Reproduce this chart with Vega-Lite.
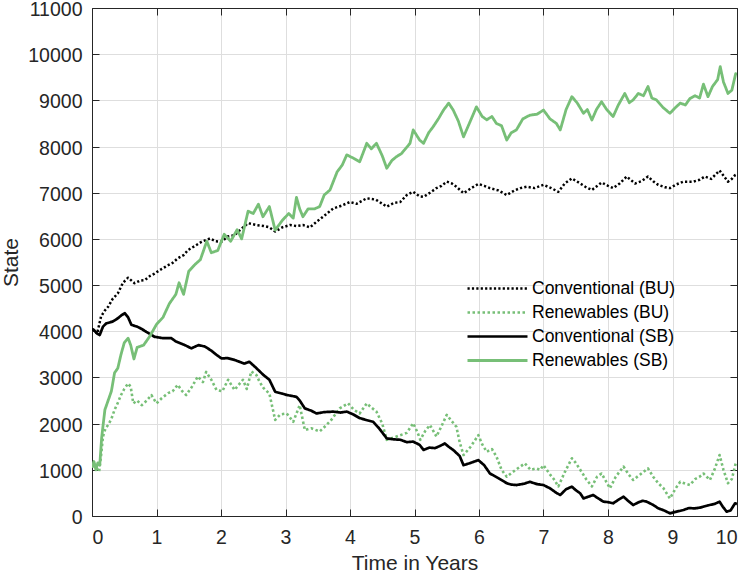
{
  "$schema": "https://vega.github.io/schema/vega-lite/v6.json",
  "width": 645,
  "height": 508,
  "autosize": {"type": "none"},
  "padding": {"left": 92, "top": 8, "right": 10, "bottom": 59},
  "background": "white",
  "data": {
    "values": [
      {"s":"Conventional (BU)","t":0,"v":4050},{"s":"Conventional (BU)","t":0.04,"v":4000},{"s":"Conventional (BU)","t":0.08,"v":3950},{"s":"Conventional (BU)","t":0.14,"v":4320},{"s":"Conventional (BU)","t":0.2,"v":4450},{"s":"Conventional (BU)","t":0.25,"v":4530},{"s":"Conventional (BU)","t":0.32,"v":4700},{"s":"Conventional (BU)","t":0.4,"v":4820},{"s":"Conventional (BU)","t":0.48,"v":5050},{"s":"Conventional (BU)","t":0.56,"v":5160},{"s":"Conventional (BU)","t":0.66,"v":5040},{"s":"Conventional (BU)","t":0.75,"v":5100},{"s":"Conventional (BU)","t":0.82,"v":5110},{"s":"Conventional (BU)","t":0.9,"v":5200},{"s":"Conventional (BU)","t":0.97,"v":5250},{"s":"Conventional (BU)","t":1.08,"v":5350},{"s":"Conventional (BU)","t":1.18,"v":5430},{"s":"Conventional (BU)","t":1.25,"v":5480},{"s":"Conventional (BU)","t":1.33,"v":5580},{"s":"Conventional (BU)","t":1.42,"v":5650},{"s":"Conventional (BU)","t":1.49,"v":5760},{"s":"Conventional (BU)","t":1.6,"v":5850},{"s":"Conventional (BU)","t":1.7,"v":5940},{"s":"Conventional (BU)","t":1.83,"v":6010},{"s":"Conventional (BU)","t":1.92,"v":5950},{"s":"Conventional (BU)","t":2.01,"v":5940},{"s":"Conventional (BU)","t":2.1,"v":6050},{"s":"Conventional (BU)","t":2.21,"v":6080},{"s":"Conventional (BU)","t":2.3,"v":6200},{"s":"Conventional (BU)","t":2.42,"v":6340},{"s":"Conventional (BU)","t":2.55,"v":6300},{"s":"Conventional (BU)","t":2.66,"v":6280},{"s":"Conventional (BU)","t":2.75,"v":6250},{"s":"Conventional (BU)","t":2.84,"v":6160},{"s":"Conventional (BU)","t":2.95,"v":6250},{"s":"Conventional (BU)","t":3.07,"v":6300},{"s":"Conventional (BU)","t":3.17,"v":6280},{"s":"Conventional (BU)","t":3.27,"v":6300},{"s":"Conventional (BU)","t":3.38,"v":6250},{"s":"Conventional (BU)","t":3.48,"v":6370},{"s":"Conventional (BU)","t":3.6,"v":6500},{"s":"Conventional (BU)","t":3.74,"v":6660},{"s":"Conventional (BU)","t":3.87,"v":6720},{"s":"Conventional (BU)","t":4.0,"v":6800},{"s":"Conventional (BU)","t":4.1,"v":6760},{"s":"Conventional (BU)","t":4.26,"v":6880},{"s":"Conventional (BU)","t":4.4,"v":6850},{"s":"Conventional (BU)","t":4.57,"v":6700},{"s":"Conventional (BU)","t":4.68,"v":6780},{"s":"Conventional (BU)","t":4.78,"v":6800},{"s":"Conventional (BU)","t":4.88,"v":6950},{"s":"Conventional (BU)","t":4.98,"v":7020},{"s":"Conventional (BU)","t":5.08,"v":6920},{"s":"Conventional (BU)","t":5.14,"v":6910},{"s":"Conventional (BU)","t":5.24,"v":7000},{"s":"Conventional (BU)","t":5.34,"v":7100},{"s":"Conventional (BU)","t":5.42,"v":7150},{"s":"Conventional (BU)","t":5.5,"v":7240},{"s":"Conventional (BU)","t":5.58,"v":7200},{"s":"Conventional (BU)","t":5.65,"v":7130},{"s":"Conventional (BU)","t":5.76,"v":6990},{"s":"Conventional (BU)","t":5.88,"v":7100},{"s":"Conventional (BU)","t":5.99,"v":7190},{"s":"Conventional (BU)","t":6.08,"v":7150},{"s":"Conventional (BU)","t":6.17,"v":7100},{"s":"Conventional (BU)","t":6.3,"v":7050},{"s":"Conventional (BU)","t":6.43,"v":6950},{"s":"Conventional (BU)","t":6.55,"v":7050},{"s":"Conventional (BU)","t":6.64,"v":7100},{"s":"Conventional (BU)","t":6.74,"v":7130},{"s":"Conventional (BU)","t":6.86,"v":7100},{"s":"Conventional (BU)","t":7.0,"v":7170},{"s":"Conventional (BU)","t":7.12,"v":7100},{"s":"Conventional (BU)","t":7.23,"v":7020},{"s":"Conventional (BU)","t":7.33,"v":7200},{"s":"Conventional (BU)","t":7.44,"v":7310},{"s":"Conventional (BU)","t":7.57,"v":7200},{"s":"Conventional (BU)","t":7.66,"v":7120},{"s":"Conventional (BU)","t":7.75,"v":7060},{"s":"Conventional (BU)","t":7.9,"v":7220},{"s":"Conventional (BU)","t":8.0,"v":7150},{"s":"Conventional (BU)","t":8.08,"v":7100},{"s":"Conventional (BU)","t":8.18,"v":7200},{"s":"Conventional (BU)","t":8.29,"v":7350},{"s":"Conventional (BU)","t":8.42,"v":7200},{"s":"Conventional (BU)","t":8.52,"v":7250},{"s":"Conventional (BU)","t":8.62,"v":7350},{"s":"Conventional (BU)","t":8.7,"v":7250},{"s":"Conventional (BU)","t":8.78,"v":7170},{"s":"Conventional (BU)","t":8.88,"v":7120},{"s":"Conventional (BU)","t":8.96,"v":7100},{"s":"Conventional (BU)","t":9.06,"v":7180},{"s":"Conventional (BU)","t":9.17,"v":7240},{"s":"Conventional (BU)","t":9.32,"v":7240},{"s":"Conventional (BU)","t":9.42,"v":7280},{"s":"Conventional (BU)","t":9.5,"v":7350},{"s":"Conventional (BU)","t":9.6,"v":7300},{"s":"Conventional (BU)","t":9.73,"v":7480},{"s":"Conventional (BU)","t":9.8,"v":7350},{"s":"Conventional (BU)","t":9.86,"v":7240},{"s":"Conventional (BU)","t":9.92,"v":7300},{"s":"Conventional (BU)","t":9.97,"v":7380},{"s":"Conventional (BU)","t":10.0,"v":7400},

      {"s":"Renewables (BU)","t":0,"v":1050},{"s":"Renewables (BU)","t":0.03,"v":1140},{"s":"Renewables (BU)","t":0.07,"v":1050},{"s":"Renewables (BU)","t":0.11,"v":960},{"s":"Renewables (BU)","t":0.14,"v":1300},{"s":"Renewables (BU)","t":0.17,"v":1720},{"s":"Renewables (BU)","t":0.21,"v":1900},{"s":"Renewables (BU)","t":0.25,"v":1970},{"s":"Renewables (BU)","t":0.3,"v":2100},{"s":"Renewables (BU)","t":0.35,"v":2300},{"s":"Renewables (BU)","t":0.4,"v":2450},{"s":"Renewables (BU)","t":0.45,"v":2620},{"s":"Renewables (BU)","t":0.5,"v":2750},{"s":"Renewables (BU)","t":0.56,"v":2870},{"s":"Renewables (BU)","t":0.6,"v":2800},{"s":"Renewables (BU)","t":0.64,"v":2440},{"s":"Renewables (BU)","t":0.7,"v":2500},{"s":"Renewables (BU)","t":0.77,"v":2400},{"s":"Renewables (BU)","t":0.85,"v":2500},{"s":"Renewables (BU)","t":0.92,"v":2620},{"s":"Renewables (BU)","t":1.0,"v":2440},{"s":"Renewables (BU)","t":1.08,"v":2550},{"s":"Renewables (BU)","t":1.18,"v":2660},{"s":"Renewables (BU)","t":1.25,"v":2700},{"s":"Renewables (BU)","t":1.33,"v":2840},{"s":"Renewables (BU)","t":1.4,"v":2700},{"s":"Renewables (BU)","t":1.46,"v":2620},{"s":"Renewables (BU)","t":1.55,"v":2800},{"s":"Renewables (BU)","t":1.64,"v":3020},{"s":"Renewables (BU)","t":1.72,"v":2900},{"s":"Renewables (BU)","t":1.77,"v":3120},{"s":"Renewables (BU)","t":1.85,"v":2950},{"s":"Renewables (BU)","t":1.93,"v":2730},{"s":"Renewables (BU)","t":2.02,"v":2700},{"s":"Renewables (BU)","t":2.11,"v":2950},{"s":"Renewables (BU)","t":2.21,"v":2730},{"s":"Renewables (BU)","t":2.28,"v":2850},{"s":"Renewables (BU)","t":2.34,"v":2950},{"s":"Renewables (BU)","t":2.4,"v":2750},{"s":"Renewables (BU)","t":2.47,"v":3130},{"s":"Renewables (BU)","t":2.55,"v":3050},{"s":"Renewables (BU)","t":2.6,"v":2900},{"s":"Renewables (BU)","t":2.66,"v":2770},{"s":"Renewables (BU)","t":2.75,"v":2650},{"s":"Renewables (BU)","t":2.84,"v":2080},{"s":"Renewables (BU)","t":2.92,"v":2200},{"s":"Renewables (BU)","t":3.02,"v":2220},{"s":"Renewables (BU)","t":3.12,"v":2040},{"s":"Renewables (BU)","t":3.22,"v":2400},{"s":"Renewables (BU)","t":3.3,"v":1860},{"s":"Renewables (BU)","t":3.4,"v":1900},{"s":"Renewables (BU)","t":3.53,"v":1830},{"s":"Renewables (BU)","t":3.62,"v":1950},{"s":"Renewables (BU)","t":3.71,"v":2080},{"s":"Renewables (BU)","t":3.84,"v":2330},{"s":"Renewables (BU)","t":3.97,"v":2440},{"s":"Renewables (BU)","t":4.06,"v":2300},{"s":"Renewables (BU)","t":4.15,"v":2220},{"s":"Renewables (BU)","t":4.26,"v":2440},{"s":"Renewables (BU)","t":4.33,"v":2350},{"s":"Renewables (BU)","t":4.41,"v":2260},{"s":"Renewables (BU)","t":4.5,"v":2000},{"s":"Renewables (BU)","t":4.57,"v":1650},{"s":"Renewables (BU)","t":4.68,"v":1700},{"s":"Renewables (BU)","t":4.78,"v":1750},{"s":"Renewables (BU)","t":4.88,"v":1800},{"s":"Renewables (BU)","t":4.98,"v":2010},{"s":"Renewables (BU)","t":5.05,"v":1800},{"s":"Renewables (BU)","t":5.09,"v":1650},{"s":"Renewables (BU)","t":5.17,"v":1850},{"s":"Renewables (BU)","t":5.24,"v":1970},{"s":"Renewables (BU)","t":5.34,"v":1720},{"s":"Renewables (BU)","t":5.42,"v":1950},{"s":"Renewables (BU)","t":5.5,"v":2190},{"s":"Renewables (BU)","t":5.58,"v":2050},{"s":"Renewables (BU)","t":5.65,"v":1930},{"s":"Renewables (BU)","t":5.7,"v":1600},{"s":"Renewables (BU)","t":5.76,"v":1320},{"s":"Renewables (BU)","t":5.87,"v":1500},{"s":"Renewables (BU)","t":5.99,"v":1750},{"s":"Renewables (BU)","t":6.05,"v":1550},{"s":"Renewables (BU)","t":6.12,"v":1390},{"s":"Renewables (BU)","t":6.2,"v":1450},{"s":"Renewables (BU)","t":6.27,"v":1290},{"s":"Renewables (BU)","t":6.35,"v":1000},{"s":"Renewables (BU)","t":6.43,"v":850},{"s":"Renewables (BU)","t":6.52,"v":950},{"s":"Renewables (BU)","t":6.62,"v":1050},{"s":"Renewables (BU)","t":6.71,"v":1140},{"s":"Renewables (BU)","t":6.8,"v":1000},{"s":"Renewables (BU)","t":6.89,"v":1030},{"s":"Renewables (BU)","t":6.95,"v":1000},{"s":"Renewables (BU)","t":7.0,"v":1100},{"s":"Renewables (BU)","t":7.1,"v":900},{"s":"Renewables (BU)","t":7.16,"v":800},{"s":"Renewables (BU)","t":7.23,"v":640},{"s":"Renewables (BU)","t":7.33,"v":950},{"s":"Renewables (BU)","t":7.44,"v":1250},{"s":"Renewables (BU)","t":7.5,"v":1150},{"s":"Renewables (BU)","t":7.57,"v":1000},{"s":"Renewables (BU)","t":7.66,"v":800},{"s":"Renewables (BU)","t":7.75,"v":640},{"s":"Renewables (BU)","t":7.83,"v":850},{"s":"Renewables (BU)","t":7.9,"v":920},{"s":"Renewables (BU)","t":7.97,"v":750},{"s":"Renewables (BU)","t":8.03,"v":600},{"s":"Renewables (BU)","t":8.12,"v":850},{"s":"Renewables (BU)","t":8.24,"v":1070},{"s":"Renewables (BU)","t":8.32,"v":900},{"s":"Renewables (BU)","t":8.39,"v":780},{"s":"Renewables (BU)","t":8.5,"v":900},{"s":"Renewables (BU)","t":8.62,"v":1030},{"s":"Renewables (BU)","t":8.7,"v":850},{"s":"Renewables (BU)","t":8.78,"v":710},{"s":"Renewables (BU)","t":8.86,"v":600},{"s":"Renewables (BU)","t":8.96,"v":380},{"s":"Renewables (BU)","t":9.05,"v":600},{"s":"Renewables (BU)","t":9.12,"v":740},{"s":"Renewables (BU)","t":9.2,"v":700},{"s":"Renewables (BU)","t":9.27,"v":670},{"s":"Renewables (BU)","t":9.35,"v":800},{"s":"Renewables (BU)","t":9.42,"v":850},{"s":"Renewables (BU)","t":9.48,"v":920},{"s":"Renewables (BU)","t":9.53,"v":850},{"s":"Renewables (BU)","t":9.58,"v":780},{"s":"Renewables (BU)","t":9.65,"v":1000},{"s":"Renewables (BU)","t":9.73,"v":1320},{"s":"Renewables (BU)","t":9.79,"v":1000},{"s":"Renewables (BU)","t":9.86,"v":710},{"s":"Renewables (BU)","t":9.92,"v":800},{"s":"Renewables (BU)","t":9.98,"v":1140},{"s":"Renewables (BU)","t":10.0,"v":1100},

      {"s":"Conventional (SB)","t":0,"v":4050},{"s":"Conventional (SB)","t":0.03,"v":4030},{"s":"Conventional (SB)","t":0.08,"v":3950},{"s":"Conventional (SB)","t":0.12,"v":3920},{"s":"Conventional (SB)","t":0.17,"v":4100},{"s":"Conventional (SB)","t":0.22,"v":4170},{"s":"Conventional (SB)","t":0.32,"v":4210},{"s":"Conventional (SB)","t":0.4,"v":4280},{"s":"Conventional (SB)","t":0.46,"v":4350},{"s":"Conventional (SB)","t":0.51,"v":4390},{"s":"Conventional (SB)","t":0.56,"v":4300},{"s":"Conventional (SB)","t":0.61,"v":4140},{"s":"Conventional (SB)","t":0.7,"v":4100},{"s":"Conventional (SB)","t":0.77,"v":4050},{"s":"Conventional (SB)","t":0.84,"v":3990},{"s":"Conventional (SB)","t":0.97,"v":3880},{"s":"Conventional (SB)","t":1.1,"v":3850},{"s":"Conventional (SB)","t":1.23,"v":3850},{"s":"Conventional (SB)","t":1.3,"v":3780},{"s":"Conventional (SB)","t":1.44,"v":3700},{"s":"Conventional (SB)","t":1.54,"v":3630},{"s":"Conventional (SB)","t":1.65,"v":3700},{"s":"Conventional (SB)","t":1.75,"v":3670},{"s":"Conventional (SB)","t":1.85,"v":3580},{"s":"Conventional (SB)","t":1.92,"v":3500},{"s":"Conventional (SB)","t":2.01,"v":3410},{"s":"Conventional (SB)","t":2.1,"v":3420},{"s":"Conventional (SB)","t":2.21,"v":3380},{"s":"Conventional (SB)","t":2.36,"v":3300},{"s":"Conventional (SB)","t":2.44,"v":3340},{"s":"Conventional (SB)","t":2.55,"v":3200},{"s":"Conventional (SB)","t":2.66,"v":3050},{"s":"Conventional (SB)","t":2.75,"v":2950},{"s":"Conventional (SB)","t":2.84,"v":2690},{"s":"Conventional (SB)","t":2.95,"v":2650},{"s":"Conventional (SB)","t":3.02,"v":2620},{"s":"Conventional (SB)","t":3.1,"v":2600},{"s":"Conventional (SB)","t":3.17,"v":2580},{"s":"Conventional (SB)","t":3.22,"v":2500},{"s":"Conventional (SB)","t":3.3,"v":2330},{"s":"Conventional (SB)","t":3.4,"v":2280},{"s":"Conventional (SB)","t":3.48,"v":2220},{"s":"Conventional (SB)","t":3.6,"v":2250},{"s":"Conventional (SB)","t":3.74,"v":2260},{"s":"Conventional (SB)","t":3.85,"v":2240},{"s":"Conventional (SB)","t":3.95,"v":2260},{"s":"Conventional (SB)","t":4.05,"v":2200},{"s":"Conventional (SB)","t":4.15,"v":2120},{"s":"Conventional (SB)","t":4.25,"v":2080},{"s":"Conventional (SB)","t":4.36,"v":2040},{"s":"Conventional (SB)","t":4.45,"v":1900},{"s":"Conventional (SB)","t":4.57,"v":1680},{"s":"Conventional (SB)","t":4.68,"v":1660},{"s":"Conventional (SB)","t":4.78,"v":1650},{"s":"Conventional (SB)","t":4.88,"v":1600},{"s":"Conventional (SB)","t":4.98,"v":1610},{"s":"Conventional (SB)","t":5.08,"v":1540},{"s":"Conventional (SB)","t":5.14,"v":1430},{"s":"Conventional (SB)","t":5.23,"v":1480},{"s":"Conventional (SB)","t":5.32,"v":1470},{"s":"Conventional (SB)","t":5.4,"v":1520},{"s":"Conventional (SB)","t":5.47,"v":1570},{"s":"Conventional (SB)","t":5.53,"v":1500},{"s":"Conventional (SB)","t":5.6,"v":1430},{"s":"Conventional (SB)","t":5.7,"v":1300},{"s":"Conventional (SB)","t":5.76,"v":1100},{"s":"Conventional (SB)","t":5.87,"v":1150},{"s":"Conventional (SB)","t":5.99,"v":1210},{"s":"Conventional (SB)","t":6.08,"v":1100},{"s":"Conventional (SB)","t":6.17,"v":920},{"s":"Conventional (SB)","t":6.3,"v":820},{"s":"Conventional (SB)","t":6.43,"v":710},{"s":"Conventional (SB)","t":6.5,"v":680},{"s":"Conventional (SB)","t":6.58,"v":670},{"s":"Conventional (SB)","t":6.7,"v":700},{"s":"Conventional (SB)","t":6.79,"v":740},{"s":"Conventional (SB)","t":6.9,"v":690},{"s":"Conventional (SB)","t":7.0,"v":670},{"s":"Conventional (SB)","t":7.1,"v":600},{"s":"Conventional (SB)","t":7.2,"v":500},{"s":"Conventional (SB)","t":7.26,"v":455},{"s":"Conventional (SB)","t":7.35,"v":580},{"s":"Conventional (SB)","t":7.44,"v":635},{"s":"Conventional (SB)","t":7.5,"v":560},{"s":"Conventional (SB)","t":7.57,"v":490},{"s":"Conventional (SB)","t":7.62,"v":380},{"s":"Conventional (SB)","t":7.7,"v":420},{"s":"Conventional (SB)","t":7.77,"v":455},{"s":"Conventional (SB)","t":7.85,"v":380},{"s":"Conventional (SB)","t":7.93,"v":310},{"s":"Conventional (SB)","t":8.0,"v":300},{"s":"Conventional (SB)","t":8.08,"v":275},{"s":"Conventional (SB)","t":8.16,"v":350},{"s":"Conventional (SB)","t":8.24,"v":418},{"s":"Conventional (SB)","t":8.31,"v":330},{"s":"Conventional (SB)","t":8.39,"v":238},{"s":"Conventional (SB)","t":8.48,"v":300},{"s":"Conventional (SB)","t":8.54,"v":330},{"s":"Conventional (SB)","t":8.6,"v":310},{"s":"Conventional (SB)","t":8.7,"v":240},{"s":"Conventional (SB)","t":8.78,"v":166},{"s":"Conventional (SB)","t":8.87,"v":120},{"s":"Conventional (SB)","t":8.96,"v":58},{"s":"Conventional (SB)","t":9.05,"v":90},{"s":"Conventional (SB)","t":9.17,"v":130},{"s":"Conventional (SB)","t":9.25,"v":170},{"s":"Conventional (SB)","t":9.35,"v":166},{"s":"Conventional (SB)","t":9.42,"v":180},{"s":"Conventional (SB)","t":9.48,"v":202},{"s":"Conventional (SB)","t":9.55,"v":230},{"s":"Conventional (SB)","t":9.65,"v":260},{"s":"Conventional (SB)","t":9.73,"v":310},{"s":"Conventional (SB)","t":9.78,"v":200},{"s":"Conventional (SB)","t":9.84,"v":94},{"s":"Conventional (SB)","t":9.9,"v":120},{"s":"Conventional (SB)","t":9.97,"v":275},{"s":"Conventional (SB)","t":10.0,"v":260},

      {"s":"Renewables (SB)","t":0,"v":1050},{"s":"Renewables (SB)","t":0.03,"v":1180},{"s":"Renewables (SB)","t":0.06,"v":1000},{"s":"Renewables (SB)","t":0.09,"v":1150},{"s":"Renewables (SB)","t":0.12,"v":1100},{"s":"Renewables (SB)","t":0.15,"v":1700},{"s":"Renewables (SB)","t":0.2,"v":2300},{"s":"Renewables (SB)","t":0.25,"v":2500},{"s":"Renewables (SB)","t":0.3,"v":2700},{"s":"Renewables (SB)","t":0.35,"v":3100},{"s":"Renewables (SB)","t":0.4,"v":3200},{"s":"Renewables (SB)","t":0.45,"v":3500},{"s":"Renewables (SB)","t":0.5,"v":3750},{"s":"Renewables (SB)","t":0.56,"v":3850},{"s":"Renewables (SB)","t":0.6,"v":3700},{"s":"Renewables (SB)","t":0.65,"v":3400},{"s":"Renewables (SB)","t":0.7,"v":3650},{"s":"Renewables (SB)","t":0.8,"v":3700},{"s":"Renewables (SB)","t":0.9,"v":3900},{"s":"Renewables (SB)","t":1.0,"v":4150},{"s":"Renewables (SB)","t":1.1,"v":4300},{"s":"Renewables (SB)","t":1.2,"v":4600},{"s":"Renewables (SB)","t":1.3,"v":4800},{"s":"Renewables (SB)","t":1.35,"v":5050},{"s":"Renewables (SB)","t":1.42,"v":4800},{"s":"Renewables (SB)","t":1.5,"v":5300},{"s":"Renewables (SB)","t":1.6,"v":5450},{"s":"Renewables (SB)","t":1.68,"v":5550},{"s":"Renewables (SB)","t":1.78,"v":5950},{"s":"Renewables (SB)","t":1.85,"v":5700},{"s":"Renewables (SB)","t":1.95,"v":5750},{"s":"Renewables (SB)","t":2.05,"v":6100},{"s":"Renewables (SB)","t":2.15,"v":5950},{"s":"Renewables (SB)","t":2.25,"v":6200},{"s":"Renewables (SB)","t":2.32,"v":6000},{"s":"Renewables (SB)","t":2.42,"v":6600},{"s":"Renewables (SB)","t":2.5,"v":6550},{"s":"Renewables (SB)","t":2.58,"v":6750},{"s":"Renewables (SB)","t":2.65,"v":6480},{"s":"Renewables (SB)","t":2.75,"v":6700},{"s":"Renewables (SB)","t":2.84,"v":6190},{"s":"Renewables (SB)","t":2.95,"v":6400},{"s":"Renewables (SB)","t":3.05,"v":6550},{"s":"Renewables (SB)","t":3.12,"v":6450},{"s":"Renewables (SB)","t":3.17,"v":6900},{"s":"Renewables (SB)","t":3.22,"v":6650},{"s":"Renewables (SB)","t":3.27,"v":6480},{"s":"Renewables (SB)","t":3.35,"v":6650},{"s":"Renewables (SB)","t":3.45,"v":6650},{"s":"Renewables (SB)","t":3.53,"v":6700},{"s":"Renewables (SB)","t":3.6,"v":6950},{"s":"Renewables (SB)","t":3.69,"v":7060},{"s":"Renewables (SB)","t":3.8,"v":7450},{"s":"Renewables (SB)","t":3.88,"v":7600},{"s":"Renewables (SB)","t":3.95,"v":7820},{"s":"Renewables (SB)","t":4.05,"v":7750},{"s":"Renewables (SB)","t":4.15,"v":7670},{"s":"Renewables (SB)","t":4.26,"v":8070},{"s":"Renewables (SB)","t":4.33,"v":7950},{"s":"Renewables (SB)","t":4.41,"v":8070},{"s":"Renewables (SB)","t":4.5,"v":7800},{"s":"Renewables (SB)","t":4.57,"v":7530},{"s":"Renewables (SB)","t":4.65,"v":7700},{"s":"Renewables (SB)","t":4.72,"v":7780},{"s":"Renewables (SB)","t":4.8,"v":7850},{"s":"Renewables (SB)","t":4.93,"v":8070},{"s":"Renewables (SB)","t":4.98,"v":8360},{"s":"Renewables (SB)","t":5.08,"v":8140},{"s":"Renewables (SB)","t":5.14,"v":8070},{"s":"Renewables (SB)","t":5.22,"v":8300},{"s":"Renewables (SB)","t":5.29,"v":8430},{"s":"Renewables (SB)","t":5.37,"v":8600},{"s":"Renewables (SB)","t":5.45,"v":8790},{"s":"Renewables (SB)","t":5.53,"v":8940},{"s":"Renewables (SB)","t":5.6,"v":8790},{"s":"Renewables (SB)","t":5.68,"v":8550},{"s":"Renewables (SB)","t":5.76,"v":8210},{"s":"Renewables (SB)","t":5.85,"v":8500},{"s":"Renewables (SB)","t":5.96,"v":8860},{"s":"Renewables (SB)","t":6.05,"v":8650},{"s":"Renewables (SB)","t":6.12,"v":8580},{"s":"Renewables (SB)","t":6.2,"v":8650},{"s":"Renewables (SB)","t":6.27,"v":8500},{"s":"Renewables (SB)","t":6.35,"v":8450},{"s":"Renewables (SB)","t":6.43,"v":8140},{"s":"Renewables (SB)","t":6.5,"v":8300},{"s":"Renewables (SB)","t":6.58,"v":8360},{"s":"Renewables (SB)","t":6.68,"v":8600},{"s":"Renewables (SB)","t":6.79,"v":8680},{"s":"Renewables (SB)","t":6.9,"v":8700},{"s":"Renewables (SB)","t":7.0,"v":8790},{"s":"Renewables (SB)","t":7.1,"v":8600},{"s":"Renewables (SB)","t":7.2,"v":8500},{"s":"Renewables (SB)","t":7.26,"v":8360},{"s":"Renewables (SB)","t":7.35,"v":8800},{"s":"Renewables (SB)","t":7.44,"v":9080},{"s":"Renewables (SB)","t":7.52,"v":8950},{"s":"Renewables (SB)","t":7.62,"v":8720},{"s":"Renewables (SB)","t":7.68,"v":8800},{"s":"Renewables (SB)","t":7.75,"v":8575},{"s":"Renewables (SB)","t":7.82,"v":8800},{"s":"Renewables (SB)","t":7.9,"v":8970},{"s":"Renewables (SB)","t":7.98,"v":8800},{"s":"Renewables (SB)","t":8.08,"v":8650},{"s":"Renewables (SB)","t":8.16,"v":8900},{"s":"Renewables (SB)","t":8.26,"v":9150},{"s":"Renewables (SB)","t":8.33,"v":8950},{"s":"Renewables (SB)","t":8.39,"v":9010},{"s":"Renewables (SB)","t":8.47,"v":9150},{"s":"Renewables (SB)","t":8.55,"v":9100},{"s":"Renewables (SB)","t":8.62,"v":9300},{"s":"Renewables (SB)","t":8.68,"v":9050},{"s":"Renewables (SB)","t":8.75,"v":9010},{"s":"Renewables (SB)","t":8.85,"v":8850},{"s":"Renewables (SB)","t":8.96,"v":8720},{"s":"Renewables (SB)","t":9.05,"v":8850},{"s":"Renewables (SB)","t":9.12,"v":8940},{"s":"Renewables (SB)","t":9.2,"v":8900},{"s":"Renewables (SB)","t":9.27,"v":9040},{"s":"Renewables (SB)","t":9.35,"v":9100},{"s":"Renewables (SB)","t":9.42,"v":9050},{"s":"Renewables (SB)","t":9.48,"v":9350},{"s":"Renewables (SB)","t":9.55,"v":9080},{"s":"Renewables (SB)","t":9.62,"v":9300},{"s":"Renewables (SB)","t":9.7,"v":9450},{"s":"Renewables (SB)","t":9.74,"v":9730},{"s":"Renewables (SB)","t":9.79,"v":9400},{"s":"Renewables (SB)","t":9.86,"v":9150},{"s":"Renewables (SB)","t":9.92,"v":9220},{"s":"Renewables (SB)","t":9.98,"v":9580},{"s":"Renewables (SB)","t":10.0,"v":9550}
    ]
  },
  "layer": [
    {
      "mark": {"type": "line", "clip": true, "strokeCap": "butt", "strokeJoin": "round"},
      "encoding": {
        "x": {
          "field": "t",
          "type": "quantitative",
          "scale": {"domain": [0, 10], "nice": false},
          "axis": {
            "orient": "bottom",
            "title": "Time in Years",
            "values": [0, 1, 2, 3, 4, 5, 6, 7, 8, 9, 10],
            "format": "d",
            "labelPadding": 19,
            "titlePadding": 6
          }
        },
        "y": {
          "field": "v",
          "type": "quantitative",
          "scale": {"domain": [0, 11000], "nice": false},
          "axis": {
            "orient": "left",
            "title": "State",
            "values": [0, 1000, 2000, 3000, 4000, 5000, 6000, 7000, 8000, 9000, 10000, 11000],
            "format": "d",
            "labelPadding": 17,
            "labelOffset": 1.5,
            "titlePadding": 6
          }
        },
        "color": {
          "field": "s",
          "type": "nominal",
          "title": null,
          "scale": {
            "domain": ["Conventional (BU)", "Renewables (BU)", "Conventional (SB)", "Renewables (SB)"],
            "range": ["#000000", "#77bf77", "#000000", "#77bf77"]
          },
          "legend": {
            "orient": "none",
            "legendX": 394,
            "legendY": 269,
            "symbolType": "M-3,0H3",
            "symbolSize": 400,
            "labelFontSize": 17.5,
            "labelColor": "#000000",
            "labelOffset": 23,
            "rowPadding": 4,
            "padding": 0
          }
        },
        "strokeDash": {
          "field": "s",
          "type": "nominal",
          "title": null,
          "scale": {
            "domain": ["Conventional (BU)", "Renewables (BU)", "Conventional (SB)", "Renewables (SB)"],
            "range": [[2.2, 2.2], [2.5, 2.5], [1, 0], [1, 0]]
          }
        },
        "strokeWidth": {
          "field": "s",
          "type": "nominal",
          "title": null,
          "scale": {
            "domain": ["Conventional (BU)", "Renewables (BU)", "Conventional (SB)", "Renewables (SB)"],
            "range": [2.5, 2.8, 3.2, 3.3]
          }
        }
      }
    },
    {
      "mark": {"type": "point", "opacity": 0},
      "encoding": {
        "x": {
          "field": "t",
          "type": "quantitative",
          "axis": {
            "orient": "top",
            "title": null,
            "labels": false,
            "grid": false,
            "values": [0, 1, 2, 3, 4, 5, 6, 7, 8, 9, 10]
          }
        },
        "y": {
          "field": "v",
          "type": "quantitative",
          "axis": {
            "orient": "right",
            "title": null,
            "labels": false,
            "grid": false,
            "values": [0, 1000, 2000, 3000, 4000, 5000, 6000, 7000, 8000, 9000, 10000, 11000]
          }
        }
      }
    }
  ],
  "resolve": {"axis": {"x": "independent", "y": "independent"}},
  "config": {
    "font": "Liberation Sans",
    "view": {"stroke": null},
    "axis": {
      "grid": true,
      "gridColor": "#dedede",
      "gridWidth": 1,
      "domainColor": "#262626",
      "domainWidth": 1,
      "tickColor": "#262626",
      "tickSize": -7,
      "tickWidth": 1,
      "labelFont": "Liberation Sans",
      "labelFontSize": 19.5,
      "labelColor": "#262626",
      "titleFont": "Liberation Sans",
      "titleFontSize": 21,
      "titleFontWeight": "normal",
      "titleColor": "#262626"
    },
    "legend": {
      "labelFont": "Liberation Sans"
    }
  }
}
